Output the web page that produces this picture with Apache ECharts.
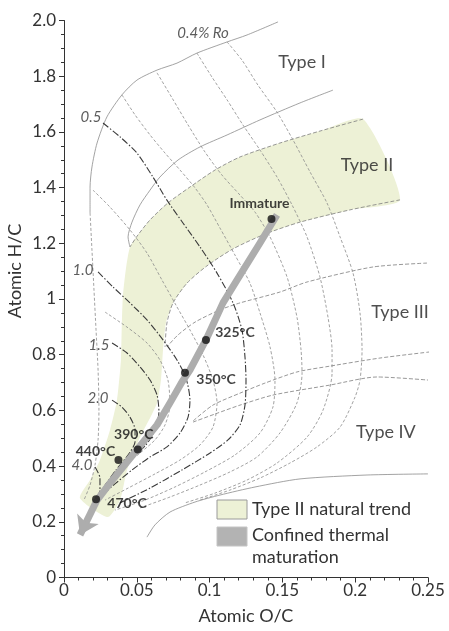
<!DOCTYPE html>
<html>
<head>
<meta charset="utf-8">
<script src="https://cdn.jsdelivr.net/npm/echarts@6/dist/echarts.min.js"></script>
<style>
  html, body { margin: 0; padding: 0; background: #fff; }
  #chart { width: 449px; height: 631px; }
</style>
</head>
<body>
<div id="chart"></div>
<script>
// Van Krevelen diagram: every point is [atomic O/C, atomic H/C].

// Kerogen type evolution paths (band boundaries)
const typeIUpper = [[0.147,1.995],[0.1257,1.948],[0.112,1.923],[0.0913,1.883],[0.0776,1.847],[0.0639,1.822],[0.0501,1.786],[0.0398,1.733],[0.0295,1.654],[0.0227,1.560],[0.0192,1.474],[0.0179,1.402],[0.0179,1.309]];
const typeILeftLimb = [[0.0179,1.309],[0.0192,1.176],[0.0206,1.032],[0.022,0.889],[0.0234,0.745],[0.024,0.601],[0.0234,0.494],[0.0213,0.404],[0.0179,0.332],[0.0137,0.278]];
const typeILower = [[0.1847,1.750],[0.1621,1.704],[0.1346,1.643],[0.112,1.589],[0.0934,1.546],[0.0783,1.499],[0.0659,1.438],[0.0591,1.391],[0.0522,1.338],[0.0467,1.276],[0.044,1.223],[0.0453,1.187]];
const typeIIUpper = [[0.2054,1.646],[0.1758,1.603],[0.1483,1.560],[0.1209,1.510],[0.1037,1.463],[0.0865,1.402],[0.0714,1.345],[0.0591,1.284],[0.0508,1.230],[0.0453,1.187]];
const typeIILower = [[0.2308,1.356],[0.1964,1.320],[0.1621,1.276],[0.138,1.233],[0.1161,1.180],[0.0982,1.119],[0.0845,1.057],[0.0749,0.986],[0.0707,0.914],[0.0694,0.828]];
const typeIIIUpper = [[0.2493,1.129],[0.2122,1.115],[0.1669,1.061],[0.1483,1.025],[0.1209,0.986],[0.1071,0.961],[0.09,0.917],[0.0783,0.871],[0.0707,0.828]];
const typeIIILower = [[0.2514,0.810],[0.217,0.788],[0.1827,0.759],[0.16,0.738],[0.138,0.698],[0.1209,0.662],[0.1023,0.619],[0.0886,0.562]];
const typeIVUpper = [[0.0886,0.558],[0.1037,0.587],[0.1209,0.619],[0.1435,0.655],[0.1827,0.691],[0.215,0.720],[0.25,0.709]];
const typeIVLower = [[0.25,0.372],[0.2081,0.368],[0.1621,0.354],[0.1312,0.325],[0.1071,0.296],[0.09,0.271],[0.0728,0.235],[0.0625,0.189],[0.057,0.145]];

// Vitrinite reflectance isolines (labelled)
const ro05 = [[0.0268,1.632],[0.0385,1.582],[0.0501,1.524],[0.0611,1.438],[0.0707,1.355],[0.0817,1.273],[0.0934,1.187],[0.1051,1.093],[0.1161,0.986],[0.1222,0.889],[0.1243,0.792],[0.125,0.709],[0.1243,0.619],[0.1209,0.548],[0.1126,0.494],[0.1003,0.447],[0.081,0.386],[0.0591,0.321],[0.0385,0.268]];
const ro10 = [[0.0234,1.097],[0.0337,1.043],[0.0453,0.986],[0.057,0.925],[0.068,0.853],[0.0776,0.781],[0.0838,0.716],[0.0865,0.637],[0.0852,0.576],[0.0797,0.519],[0.0707,0.469],[0.0591,0.433],[0.0467,0.386],[0.035,0.336],[0.0261,0.296]];
const ro15 = [[0.033,0.842],[0.0433,0.806],[0.0522,0.756],[0.0591,0.709],[0.0639,0.655],[0.0652,0.594],[0.0625,0.530],[0.0563,0.476],[0.0474,0.433],[0.0371,0.386],[0.0282,0.332]];
const ro20 = [[0.033,0.637],[0.0398,0.612],[0.0453,0.576],[0.0488,0.530],[0.0488,0.487],[0.044,0.440],[0.0357,0.386],[0.0275,0.325]];
const ro40 = [[0.0213,0.397],[0.0247,0.357],[0.0247,0.314],[0.0227,0.282]];

// Intermediate reflectance isolines (unlabelled)
const isoM1 = [[0.0199,1.391],[0.0316,1.330],[0.0453,1.248],[0.057,1.165],[0.0673,1.068],[0.0769,0.978],[0.0865,0.889],[0.0955,0.799],[0.1023,0.709],[0.1051,0.627],[0.1023,0.540],[0.0934,0.476],[0.0797,0.422],[0.0625,0.372],[0.044,0.321],[0.0282,0.278]];
const isoM2 = [[0.0282,0.953],[0.0433,0.899],[0.057,0.842],[0.0659,0.781],[0.0714,0.709],[0.0728,0.619],[0.0694,0.548],[0.0625,0.494],[0.0522,0.447],[0.0398,0.393],[0.0282,0.332]];
const isoG1 = [[0.0398,1.733],[0.0488,1.661],[0.0591,1.589],[0.0694,1.524],[0.0797,1.463],[0.09,1.399],[0.0982,1.338],[0.1071,1.255],[0.1174,1.158],[0.1277,1.057],[0.1346,0.950],[0.1415,0.828],[0.1449,0.709],[0.1435,0.612],[0.1346,0.519],[0.1174,0.440],[0.0968,0.379],[0.0762,0.325],[0.0556,0.278],[0.035,0.242]];
const isoG2 = [[0.0639,1.812],[0.0742,1.722],[0.0852,1.625],[0.0968,1.528],[0.1085,1.445],[0.1209,1.373],[0.1312,1.312],[0.1415,1.223],[0.1532,1.079],[0.16,0.935],[0.1628,0.817],[0.1635,0.734],[0.16,0.627],[0.1483,0.519],[0.1326,0.433],[0.114,0.379],[0.0934,0.332],[0.0728,0.289],[0.0522,0.250]];
const isoG3 = [[0.0913,1.883],[0.1016,1.797],[0.112,1.715],[0.1229,1.625],[0.1346,1.535],[0.1463,1.438],[0.1566,1.338],[0.1669,1.223],[0.1758,1.079],[0.1813,0.935],[0.1841,0.817],[0.1841,0.734],[0.1779,0.601],[0.1669,0.504],[0.1463,0.411],[0.1257,0.350],[0.1037,0.303],[0.0831,0.268]];
const isoG4 = [[0.112,1.923],[0.1222,1.858],[0.1332,1.768],[0.1463,1.671],[0.1573,1.571],[0.169,1.456],[0.1806,1.345],[0.1896,1.223],[0.1985,1.093],[0.2033,0.950],[0.2047,0.817],[0.2033,0.709],[0.1999,0.648],[0.1896,0.540],[0.1738,0.469],[0.1552,0.411],[0.1346,0.357],[0.114,0.314],[0.0934,0.278]];

// Type II natural trend envelope
const typeIITrend = [[0.2054,1.646],[0.1758,1.603],[0.1483,1.560],[0.1209,1.510],[0.1037,1.463],[0.0865,1.402],[0.0714,1.345],[0.0591,1.284],[0.0508,1.230],[0.0453,1.187],[0.0426,1.111],[0.0405,1.014],[0.0398,0.925],[0.0391,0.781],[0.0364,0.637],[0.0316,0.530],[0.0247,0.422],[0.0179,0.350],[0.011,0.285],[0.0302,0.217],[0.0385,0.278],[0.0433,0.386],[0.0522,0.504],[0.0591,0.573],[0.0639,0.627],[0.0666,0.709],[0.068,0.817],[0.0701,0.917],[0.0749,0.986],[0.0845,1.057],[0.0982,1.119],[0.1161,1.180],[0.138,1.233],[0.1621,1.276],[0.1964,1.320],[0.2308,1.356]];

// Confined thermal maturation path (shaft, then arrow head segment) and sampled stages
const maturationPath = [[0.1463,1.302],[0.1346,1.201],[0.1188,1.068],[0.1092,0.986],[0.0975,0.853],[0.0865,0.745],[0.081,0.702],[0.0728,0.627],[0.0639,0.548],[0.0522,0.472],[0.0405,0.397],[0.0316,0.339],[0.0227,0.278]];
const maturationHead = [[0.0227,0.278],[0.011,0.153]];
const stageNames = ['Immature', '325°C', '350°C', '390°C', '440°C', '470°C'];
const stageOC = [0.1425, 0.0975, 0.0831, 0.0507, 0.0374, 0.022];
const stageHC = [1.287, 0.853, 0.735, 0.460, 0.422, 0.281];

// Text annotations
const roLabels = ['0.4% Ro', '0.5', '1.0', '1.5', '2.0', '4.0'];
const roLabelOC = [0.0955, 0.0185, 0.013, 0.024, 0.0234, 0.0124];
const roLabelHC = [1.955, 1.654, 1.104, 0.835, 0.645, 0.404];
const typeLabels = ['Type I', 'Type II', 'Type III', 'Type IV'];
const typeLabelOC = [0.1635, 0.2081, 0.2308, 0.2211];
const typeLabelHC = [1.851, 1.481, 0.953, 0.522];

const xTicks = { min: 0, max: 0.25, step: 0.05 };
const yTicks = { min: 0, max: 2.0, step: 0.2 };

// ---- styling ----
const FONT = 'Lato, "Open Sans", sans-serif';
const TEXT = '#333';
const ARROW = '#adadad';
const solidGrey = { color: '#8c8c8c', width: 0.8, type: 'solid' };
const typeDash = { color: '#7d7d7d', width: 0.8, type: [4, 2] };
const isoDash = { color: '#8a8a8a', width: 0.8, type: [3, 2] };
const roDash = { color: '#3a3a3a', width: 1.1, type: [7, 2, 1.5, 2] };

// label offsets (px) of each stage label from its dot
const stageLabelOffset = {
  'Immature': [-12, -16], '325°C': [29, -7], '350°C': [31, 7],
  '390°C': [-4, -15], '440°C': [-23, -8], '470°C': [31, 4]
};

function curve(name, data, lineStyle, z) {
  return { type: 'line', name, data, showSymbol: false, symbol: 'none', smooth: 0.25,
           lineStyle, silent: true, z, animation: false };
}

const series = [
  {
    type: 'custom', name: 'Type II natural trend', silent: true, z: 1,
    data: [[0, 0]],
    renderItem: (params, api) => ({
      type: 'polygon',
      shape: { points: typeIITrend.map(p => api.coord(p)), smooth: 0.2 },
      style: { fill: '#edf1d6' }
    })
  },
  curve('typeIUpper', typeIUpper, solidGrey, 2),
  curve('typeILeftLimb', typeILeftLimb, isoDash, 2),
  curve('typeILower', typeILower, solidGrey, 2),
  curve('typeIIUpper', typeIIUpper, typeDash, 2),
  curve('typeIILower', typeIILower, typeDash, 2),
  curve('typeIIIUpper', typeIIIUpper, typeDash, 2),
  curve('typeIIILower', typeIIILower, typeDash, 2),
  curve('typeIVUpper', typeIVUpper, typeDash, 2),
  curve('typeIVLower', typeIVLower, solidGrey, 2),
  curve('isoM1', isoM1, isoDash, 2),
  curve('isoM2', isoM2, isoDash, 2),
  curve('isoG1', isoG1, isoDash, 2),
  curve('isoG2', isoG2, isoDash, 2),
  curve('isoG3', isoG3, isoDash, 2),
  curve('isoG4', isoG4, isoDash, 2),
  curve('ro05', ro05, roDash, 3),
  curve('ro10', ro10, roDash, 3),
  curve('ro15', ro15, roDash, 3),
  curve('ro20', ro20, roDash, 3),
  curve('ro40', ro40, roDash, 3),
  {
    type: 'line', name: 'Confined thermal maturation', data: maturationPath,
    showSymbol: false, symbol: 'none', silent: true, z: 4,
    lineStyle: { color: ARROW, width: 7, cap: 'butt', join: 'round' }
  },
  {
    type: 'lines', name: 'maturationHead', coordinateSystem: 'cartesian2d', silent: true, z: 4,
    data: [{ coords: maturationHead }],
    lineStyle: { color: ARROW, width: 7, opacity: 1, curveness: 0 },
    symbol: ['none', 'arrow'], symbolSize: 18
  },
  {
    type: 'scatter', name: 'stages', z: 6, silent: true,
    symbolSize: 8, itemStyle: { color: '#111' },
    data: stageNames.map((n, i) => ({
      name: n, value: [stageOC[i], stageHC[i]],
      label: { offset: stageLabelOffset[n] }
    })),
    label: {
      show: true, position: 'inside', formatter: '{b}', align: 'center', verticalAlign: 'middle',
      color: '#111', fontFamily: FONT, fontWeight: 'bold', fontSize: 14
    }
  },
  {
    type: 'scatter', name: 'roLabels', z: 6, silent: true,
    symbolSize: 1, itemStyle: { color: 'transparent' },
    data: roLabels.map((n, i) => ({ name: n, value: [roLabelOC[i], roLabelHC[i]] })),
    label: {
      show: true, position: 'inside', formatter: '{b}', align: 'center', verticalAlign: 'middle',
      color: TEXT, fontFamily: FONT, fontStyle: 'italic', fontSize: 15
    }
  },
  {
    type: 'scatter', name: 'typeLabels', z: 6, silent: true,
    symbolSize: 1, itemStyle: { color: 'transparent' },
    data: typeLabels.map((n, i) => ({ name: n, value: [typeLabelOC[i], typeLabelHC[i]] })),
    label: {
      show: true, position: 'inside', formatter: '{b}', align: 'center', verticalAlign: 'middle',
      color: '#222', fontFamily: FONT, fontSize: 18
    }
  }
];

const chart = echarts.init(document.getElementById('chart'), null, { renderer: 'canvas' });
chart.setOption({
  animation: false,
  backgroundColor: '#fff',
  grid: { left: 64, right: 21, top: 20.5, bottom: 53.5 },
  xAxis: {
    type: 'value', min: xTicks.min, max: xTicks.max, interval: xTicks.step,
    name: 'Atomic O/C', nameLocation: 'middle', nameGap: 30,
    nameTextStyle: { color: TEXT, fontFamily: FONT, fontSize: 18 },
    axisLine: { show: true, lineStyle: { color: '#333', width: 1 } },
    axisTick: { show: true, inside: false, length: 5, lineStyle: { color: '#333' } },
    minorTick: { show: true, splitNumber: 5, length: 3, lineStyle: { color: '#333' } },
    axisLabel: { color: TEXT, fontFamily: FONT, fontSize: 17, margin: 5 },
    splitLine: { show: false }
  },
  yAxis: {
    type: 'value', min: yTicks.min, max: yTicks.max, interval: yTicks.step,
    axisLine: { show: true, lineStyle: { color: '#333', width: 1 } },
    axisTick: { show: true, inside: false, length: 5, lineStyle: { color: '#333' } },
    minorTick: { show: true, splitNumber: 4, length: 3, lineStyle: { color: '#333' } },
    axisLabel: {
      color: TEXT, fontFamily: FONT, fontSize: 17, margin: 8,
      formatter: v => (Math.abs(v - 2) < 1e-9 ? '2.0' : String(+v.toFixed(1)))
    },
    splitLine: { show: false }
  },
  graphic: [
    { type: 'text', x: 15, y: 271, rotation: Math.PI / 2,
      style: { text: 'Atomic H/C', fill: TEXT, font: '18px ' + FONT, align: 'center', verticalAlign: 'middle' } },
    { type: 'rect', shape: { x: 217, y: 500, width: 30, height: 19 },
      style: { fill: '#edf1d6', stroke: '#9a9a9a', lineWidth: 1 } },
    { type: 'rect', shape: { x: 217, y: 527, width: 30, height: 19 },
      style: { fill: '#b3b3b3', stroke: '#c4c4c4', lineWidth: 1 } },
    { type: 'text', x: 252, y: 509,
      style: { text: 'Type II natural trend', fill: TEXT, font: '18px ' + FONT, verticalAlign: 'middle' } },
    { type: 'text', x: 252, y: 535,
      style: { text: 'Confined thermal', fill: TEXT, font: '18px ' + FONT, verticalAlign: 'middle' } },
    { type: 'text', x: 252, y: 557,
      style: { text: 'maturation', fill: TEXT, font: '18px ' + FONT, verticalAlign: 'middle' } }
  ],
  series
});
</script>
</body>
</html>
